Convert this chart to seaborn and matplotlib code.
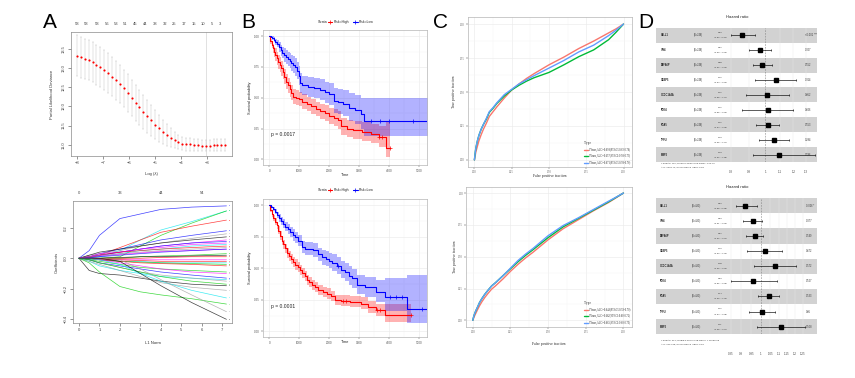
import matplotlib.pyplot as plt
import numpy as np
import pandas as pd
import seaborn as sns
from matplotlib.lines import Line2D
from matplotlib.ticker import NullLocator, FixedLocator

# ---------------------------------------------------------------- data A top
log_lambda = [-8.00, -7.85, -7.70, -7.55, -7.40, -7.25, -7.10, -6.95, -6.80, -6.65,
              -6.50, -6.35, -6.20, -6.05, -5.90, -5.75, -5.60, -5.45, -5.30, -5.15,
              -5.00, -4.85, -4.70, -4.55, -4.40, -4.25, -4.10, -3.95, -3.80, -3.65,
              -3.50, -3.35, -3.20, -3.05, -2.90, -2.75, -2.60, -2.45, -2.30]
cv_mean = [13.32, 13.28, 13.24, 13.20, 13.15, 13.09, 13.02, 12.95, 12.87, 12.78,
           12.68, 12.58, 12.47, 12.35, 12.22, 12.10, 11.98, 11.86, 11.75, 11.64,
           11.53, 11.43, 11.34, 11.26, 11.19, 11.12, 11.07, 11.03, 11.01, 11.01,
           11.00, 10.99, 10.98, 10.98, 10.98, 10.99, 10.99, 10.99, 10.99]
cv_sd = [0.53, 0.53, 0.53, 0.52, 0.52, 0.52, 0.52, 0.51, 0.51, 0.51,
         0.50, 0.50, 0.49, 0.49, 0.48, 0.47, 0.46, 0.45, 0.43, 0.41,
         0.39, 0.36, 0.32, 0.28, 0.24, 0.21, 0.18, 0.17, 0.16, 0.16,
         0.15, 0.15, 0.15, 0.15, 0.15, 0.15, 0.15, 0.15, 0.15]
lambda_min = -3.05
nz_pos = [-8.0, -7.63, -7.24, -6.86, -6.51, -6.13, -5.76, -5.37, -5.0, -4.63,
          -4.26, -3.90, -3.51, -3.14, -2.81, -2.5]
nz_count = [58, 58, 58, 56, 53, 51, 45, 44, 38, 32, 25, 17, 15, 10, 5, 3]

# ---------------------------------------------------------------- data A bottom
l1_knots = [0, 0.5, 1, 2, 3, 4, 5.5, 7.2]
path_colors = ["blue", "cyan", "green3", "red", "blue", "gray", "black", "magenta",
               "blue", "magenta", "cyan", "red", "gray", "magenta", "blue", "green3",
               "black", "red", "magenta", "red", "cyan", "green3", "red", "green3",
               "magenta", "blue", "cyan", "gray", "green3", "black", "gray", "cyan",
               "green3", "gray", "black"]
coef_paths = [
    [0, .05, .15, .26, .29, .32, .335, .343],
    [0, 0, .01, .05, .12, .185, .24, .31],
    [0, 0, 0, .01, .08, .15, .23, .31],
    [0, 0, .02, .07, .12, .17, .21, .25],
    [0, .01, .03, .06, .09, .12, .15, .18],
    [0, .02, .03, .05, .08, .10, .13, .16],
    [0, .02, .04, .06, .08, .10, .12, .14],
    [0, .01, .02, .04, .06, .08, .10, .12],
    [0, .01, .02, .04, .06, .08, .10, .11],
    [0, .01, .03, .04, .06, .07, .09, .10],
    [0, .005, .01, .03, .05, .06, .08, .09],
    [0, .01, .02, .04, .05, .06, .07, .08],
    [0, .01, .02, .03, .04, .05, .06, .07],
    [0, .005, .015, .025, .035, .045, .05, .06],
    [0, .005, .01, .02, .03, .04, .05, .06],
    [0, 0, 0, 0, .01, .015, .02, .03],
    [0, 0, 0, .005, .01, .01, .015, .02],
    [0, 0, 0, 0, 0, .005, .01, .01],
    [0, 0, -.005, -.01, -.01, -.01, -.01, -.01],
    [0, 0, -.005, -.01, -.015, -.02, -.02, -.02],
    [0, -.005, -.01, -.02, -.02, -.03, -.03, -.03],
    [0, -.005, -.01, -.02, -.025, -.03, -.035, -.04],
    [0, 0, -.01, -.02, -.03, -.035, -.04, -.05],
    [0, -.01, -.02, -.04, -.06, -.07, -.08, -.09],
    [0, 0, -.01, -.03, -.05, -.07, -.09, -.10],
    [0, -.01, -.03, -.05, -.07, -.09, -.11, -.13],
    [0, -.02, -.05, -.08, -.10, -.12, -.13, -.14],
    [0, -.01, -.03, -.06, -.09, -.11, -.13, -.15],
    [0, -.01, -.03, -.06, -.09, -.12, -.15, -.17],
    [0, -.08, -.10, -.11, -.13, -.15, -.17, -.18],
    [0, -.02, -.04, -.08, -.12, -.16, -.19, -.21],
    [0, 0, -.01, -.04, -.10, -.15, -.21, -.26],
    [0, -.03, -.09, -.185, -.22, -.24, -.265, -.30],
    [0, 0, 0, -.01, -.07, -.14, -.24, -.35],
    [0, 0, 0, -.02, -.10, -.18, -.29, -.40],
]
var_ids = [12, 45, 3, 27, 8, 51, 19, 33, 40, 6, 22, 57, 14, 30, 2, 48, 11, 36,
           25, 9, 53, 17, 42, 4, 29, 38, 15, 55, 21, 1, 44, 31, 7, 50, 26]
df_top_pos = [0, 2, 4, 6]
df_top_lab = ["0", "33", "44", "54"]

# ---------------------------------------------------------------- data B (KM)
t_hi1 = [0, 40, 80, 120, 160, 200, 250, 300, 350, 400, 450, 500, 560, 620, 680, 740, 800,
         900, 1000, 1100, 1250, 1400, 1550, 1700, 1850, 2000, 2150, 2300, 2400, 2600,
         2800, 3100, 3400, 3650, 3900]
s_hi1 = [1.0, .96, .93, .90, .87, .85, .82, .79, .77, .74, .71, .67, .63, .60, .57, .54, .51,
         .50, .49, .47, .45, .43, .41, .39, .375, .355, .34, .32, .27, .25, .235, .225, .21,
         .18, .09]
lo_hi1 = [1.0, .94, .90, .86, .83, .80, .77, .73, .71, .68, .65, .61, .57, .54, .51, .48, .45,
          .44, .43, .41, .39, .37, .35, .33, .31, .29, .27, .25, .20, .18, .165, .15, .13,
          .10, .02]
up_hi1 = [1.0, .98, .96, .94, .91, .90, .87, .85, .83, .80, .77, .73, .69, .66, .63, .60, .57,
          .56, .55, .53, .51, .49, .47, .45, .44, .42, .41, .39, .34, .32, .31, .30, .29,
          .27, .30]
end_hi1 = 4050
cens_hi1 = [3650, 3750, 4050]

t_lo1 = [0, 50, 100, 150, 200, 260, 320, 380, 440, 500, 560, 620, 680, 740, 800, 860, 920,
         980, 1040, 1100, 1300, 1500, 1700, 1850, 2000, 2150, 2300, 2450, 2650, 2850, 3050,
         3150]
s_lo1 = [1.0, .995, .985, .97, .955, .94, .91, .885, .865, .845, .83, .815, .80, .785, .77,
         .75, .72, .68, .62, .60, .59, .58, .565, .545, .53, .475, .465, .45, .42, .40, .37,
         .31]
lo_lo1 = [1.0, .985, .97, .95, .93, .91, .87, .84, .82, .79, .775, .755, .74, .72, .70, .68,
          .65, .60, .54, .52, .51, .50, .48, .46, .44, .38, .37, .35, .31, .29, .25, .19]
up_lo1 = [1.0, 1.0, 1.0, .99, .98, .97, .95, .93, .91, .90, .885, .87, .86, .85, .84, .82,
          .79, .76, .70, .68, .67, .66, .65, .63, .62, .58, .57, .56, .54, .52, .50, .50]
end_lo1 = 5300
cens_lo1 = [3400, 3700, 4000, 4800]

t_hi2 = [0, 40, 80, 130, 190, 250, 300, 360, 420, 470, 530, 600, 660, 730, 800, 870, 950,
         1030, 1100, 1180, 1250, 1330, 1420, 1520, 1640, 1780, 1920, 2050, 2200, 2400,
         2700, 3050, 3300, 3550, 3850]
s_hi2 = [1.0, .965, .93, .90, .87, .84, .80, .76, .72, .69, .66, .625, .60, .575, .55, .53,
         .51, .485, .465, .44, .41, .39, .37, .35, .33, .315, .30, .28, .25, .24, .235, .22,
         .19, .17, .13]
lo_hi2 = [1.0, .95, .91, .875, .84, .81, .77, .725, .685, .655, .62, .585, .56, .535, .51,
          .49, .47, .445, .425, .40, .37, .35, .33, .31, .29, .275, .26, .24, .21, .20, .19,
          .175, .145, .12, .075]
up_hi2 = [1.0, .98, .955, .925, .90, .87, .835, .795, .755, .725, .695, .665, .64, .615, .59,
          .57, .55, .525, .505, .48, .45, .43, .41, .39, .37, .355, .34, .32, .29, .285, .28,
          .27, .24, .22, .22]
end_hi2 = 4744
cens_hi2 = [2450, 2550, 3600, 3700, 4744]

t_lo2 = [0, 60, 120, 190, 260, 330, 400, 470, 540, 620, 700, 780, 860, 960, 1080, 1200,
         1450, 1640, 1760, 1880, 2000, 2100, 2250, 2400, 2520, 2650, 2780, 2920, 3200,
         3580, 3860, 4610]
s_lo2 = [1.0, .985, .97, .95, .925, .90, .875, .855, .83, .81, .785, .765, .745, .72, .67,
         .655, .645, .61, .59, .575, .56, .545, .52, .49, .47, .44, .42, .37, .35, .31, .27,
         .18]
lo_lo2 = [1.0, .975, .955, .93, .90, .87, .845, .82, .795, .77, .745, .72, .70, .675, .62,
          .605, .59, .555, .53, .515, .50, .48, .455, .42, .40, .37, .345, .295, .27, .23,
          .16, .07]
up_lo2 = [1.0, .995, .985, .97, .95, .93, .905, .89, .865, .85, .825, .81, .79, .765, .72,
          .71, .70, .665, .645, .635, .62, .61, .59, .56, .54, .515, .495, .45, .43, .41,
          .42, .45]
end_lo2 = 5270
cens_lo2 = [2300, 4050, 4250, 4450, 5100]

pval_top = "p = 0.0017"
pval_bottom = "p = 0.0001"

# ---------------------------------------------------------------- data C (ROC)
fpr = [0, .005, .01, .02, .03, .045, .06, .08, .10, .125, .15, .20, .25, .30, .35, .40,
       .50, .60, .70, .80, .90, .95, 1.0]
tpr_top = {
    "red": [0, .03, .06, .10, .14, .185, .225, .27, .32, .355, .39, .455, .515, .56, .60,
            .635, .70, .757, .82, .875, .935, .965, 1.0],
    "green": [0, .05, .09, .14, .18, .225, .26, .30, .35, .38, .415, .47, .515, .55, .58,
              .605, .644, .70, .76, .81, .885, .94, 1.0],
    "blue": [0, .05, .09, .14, .18, .225, .26, .305, .355, .385, .42, .48, .52, .56, .59,
             .62, .676, .732, .795, .845, .915, .955, 1.0],
}
tpr_bottom = {
    "red": [0, .015, .03, .055, .08, .115, .145, .18, .21, .245, .27, .325, .385, .44, .49,
            .535, .633, .72, .79, .86, .925, .962, 1.0],
    "green": [0, .025, .045, .075, .10, .14, .17, .205, .235, .27, .295, .35, .405, .46,
              .51, .555, .65, .735, .80, .865, .93, .965, 1.0],
    "blue": [0, .025, .045, .075, .10, .14, .17, .205, .235, .27, .295, .35, .41, .47, .52,
             .565, .665, .745, .805, .87, .935, .967, 1.0],
}
roc_labels_top = ["1-Years,AUC=0.698(95%CI:0.63-0.76)",
                  "3-Years,AUC=0.657(95%CI:0.58-0.73)",
                  "5-Years,AUC=0.671(95%CI:0.58-0.76)"]
roc_labels_bottom = ["1-Years,AUC=0.648(95%CI:0.59-0.70)",
                     "3-Years,AUC=0.662(95%CI:0.60-0.72)",
                     "5-Years,AUC=0.665(95%CI:0.60-0.73)"]

# ---------------------------------------------------------------- data D (forest)
genes = ["SALL1", "IRS4", "DEFA6P", "CABP5", "CCDC144A", "PDK4", "PGA5", "TFPI2", "MMP3"]
hr_top = [0.86, 0.966, 0.98, 1.07, 1.013, 1.015, 1.015, 1.058, 1.095]
lo_top = [0.80, 0.90, 0.92, 0.935, 0.88, 0.86, 0.94, 0.957, 0.92]
hi_top = [0.935, 1.035, 1.047, 1.22, 1.17, 1.195, 1.095, 1.17, 1.38]
p_top = ["<0.001 ***", "0.327", "0.552", "0.314", "0.852", "0.826", "0.553", "0.284", "0.186"]
ticks_top = [0.8, 0.9, 1, 1.1, 1.2, 1.3]
foot_top = ["# Events: 112; Global p-value (Log-Rank): 4.5e-05",
            "AIC: 1038.74; Concordance Index: 0.63"]

hr_bot = [0.92, 0.956, 0.967, 1.022, 1.078, 0.96, 1.044, 1.007, 1.113]
lo_bot = [0.875, 0.91, 0.923, 0.928, 0.965, 0.85, 0.986, 0.94, 0.977]
hi_bot = [0.977, 1.004, 1.013, 1.121, 1.204, 1.09, 1.103, 1.078, 1.266]
p_bot = ["0.026 *", "0.077", "0.149", "0.672", "0.172", "0.527", "0.133", "0.85", "0.108"]
ticks_bot = [0.85, 0.9, 0.95, 1, 1.05, 1.1, 1.15, 1.2, 1.25]
foot_bot = ["# Events: 214; Global p-value (Log-Rank): 7.4556e-08",
            "AIC: 2451.96; Concordance Index: 0.64"]

# ---------------------------------------------------------------- helpers
sns.set_theme(style="white")
plt.rcParams["font.family"] = ["Liberation Sans", "DejaVu Sans"]

W, H = 855, 378
R_COLORS = {"black": "black", "red": "red", "green3": "#00CD00", "blue": "blue",
            "cyan": "#00E5EE", "magenta": "magenta", "gray": "#9A9A9A"}
GG = {"red": "#F8766D", "green": "#00BA38", "blue": "#619CFF"}

fig = plt.figure(figsize=(8.55, 3.78), dpi=100)


def px_axes(rect):
    left, top, right, bottom = rect
    return fig.add_axes([left / W, 1 - bottom / H, (right - left) / W, (bottom - top) / H])


def label_px(ax, rect, xlab_y, ylab_x):
    left, top, right, bottom = rect
    ax.xaxis.set_label_coords(0.5, -(xlab_y - bottom - 1.5) / (bottom - top))
    ax.yaxis.set_label_coords(-(left - ylab_x - 1.5) / (right - left), 0.5)


def r_style(ax, fs=3.0):
    for s in ax.spines.values():
        s.set_visible(True)
        s.set_color("#8A8A8A")
        s.set_linewidth(0.5)
    ax.tick_params(direction="out", length=2, width=0.4, colors="#444444",
                   labelsize=fs, pad=1.5, bottom=True, left=True)
    for lbl in ax.get_yticklabels():
        lbl.set_rotation(90)
        lbl.set_va("center")


def gg_style(ax, fs=2.2, pad=1.2):
    ax.set_facecolor("white")
    for s in ax.spines.values():
        s.set_visible(True)
        s.set_color("#B5B5B5")
        s.set_linewidth(0.5)
    ax.grid(True, which="major", color="#EBEBEB", lw=0.45)
    ax.grid(True, which="minor", color="#F4F4F4", lw=0.3)
    ax.set_axisbelow(True)
    ax.tick_params(which="major", direction="out", length=1.5, width=0.35,
                   colors="#555555", labelsize=fs, pad=pad, bottom=True, left=True)
    ax.tick_params(which="minor", length=0)


# ---------------------------------------------------------------- A top
rect = (71, 32, 232, 156)
ax = px_axes(rect)
ax.errorbar(log_lambda, cv_mean, yerr=cv_sd, fmt="none", ecolor="#C6C6C6",
            elinewidth=0.35, capsize=0.8, capthick=0.35, zorder=1)
sns.scatterplot(x=log_lambda, y=cv_mean, color="red", s=2.4, linewidth=0, ax=ax, zorder=3)
ax.axvline(lambda_min, color="#D0D0D0", lw=0.45, zorder=0)
ax.set_xlim(-8.23, -2.04)
ax.set_ylim(10.71, 13.94)
ax.set_xticks([-8, -7, -6, -5, -4, -3])
ax.set_xticklabels(["−8", "−7", "−6", "−5", "−4", "−3"])
ax.set_yticks([11.0, 11.5, 12.0, 12.5, 13.0, 13.5])
ax.set_yticklabels(["11.0", "11.5", "12.0", "12.5", "13.0", "13.5"])
r_style(ax)
ax.set_xlabel("Log (λ)", fontsize=3.0, color="#333333")
ax.set_ylabel("Partial Likelihood Deviance", fontsize=3.0, color="#333333")
label_px(ax, rect, 174, 52)
for pos, n in zip(nz_pos, nz_count):
    ax.annotate(str(n), xy=(pos, 1), xycoords=("data", "axes fraction"), xytext=(0, 5.8),
                textcoords="offset points", ha="center", va="center", fontsize=3.0,
                color="#444444")

# ---------------------------------------------------------------- A bottom
rect = (73, 201, 232, 323)
ax = px_axes(rect)
rows = []
for i, vals in enumerate(coef_paths):
    for k, v in zip(l1_knots, vals):
        rows.append({"path": i, "l1": k, "coef": v})
paths_df = pd.DataFrame(rows)
sns.lineplot(data=paths_df, x="l1", y="coef", hue="path",
             palette=[R_COLORS[c] for c in path_colors], legend=False,
             estimator=None, lw=0.5, alpha=0.75, ax=ax)
for vals, c, vid in zip(coef_paths, path_colors, var_ids):
    ax.text(l1_knots[-1] + 0.12, vals[-1], str(vid), fontsize=1.3, color=R_COLORS[c],
            va="center", ha="left", clip_on=False)
ax.set_xlim(-0.29, 7.47)
ax.set_ylim(-0.424, 0.375)
ax.set_xticks(range(8))
ax.set_yticks([-0.4, -0.2, 0.0, 0.2])
ax.set_yticklabels(["−0.4", "−0.2", "0.0", "0.2"])
r_style(ax)
ax.set_xlabel("L1 Norm", fontsize=3.0, color="#333333")
ax.set_ylabel("Coefficients", fontsize=3.0, color="#333333")
label_px(ax, rect, 342, 57)
for pos, lab in zip(df_top_pos, df_top_lab):
    ax.annotate(lab, xy=(pos, 1), xycoords=("data", "axes fraction"), xytext=(0, 5.8),
                textcoords="offset points", ha="center", va="center", fontsize=3.0,
                color="#444444")


# ---------------------------------------------------------------- B
def km_curve(ax, t, s, lo, up, t_end, color, cens):
    tt = np.append(t, t_end)
    ss = np.append(s, s[-1])
    ll = np.append(lo, lo[-1])
    uu = np.append(up, up[-1])
    ax.fill_between(tt, ll, uu, step="post", color=color, alpha=0.3, lw=0)
    sns.lineplot(x=tt, y=ss, drawstyle="steps-post", color=color, lw=0.8, ax=ax)
    idx = np.searchsorted(t, cens, side="right") - 1
    ax.plot(cens, np.asarray(s)[idx], ls="none", marker="+", color=color, ms=2.2, mew=0.5)


def km_panel(rect, curves, pval, legend_y):
    ax = px_axes(rect)
    for c in curves:
        km_curve(ax, *c)
    ax.set_xlim(-210, 5270)
    ax.set_ylim(-0.045, 1.05)
    ax.set_xticks([0, 1000, 2000, 3000, 4000, 5000])
    ax.set_yticks([0, 0.25, 0.5, 0.75, 1.0])
    ax.set_yticklabels(["0.00", "0.25", "0.50", "0.75", "1.00"])
    ax.xaxis.set_minor_locator(FixedLocator([500, 1500, 2500, 3500, 4500]))
    ax.yaxis.set_minor_locator(FixedLocator([0.125, 0.375, 0.625, 0.875]))
    gg_style(ax)
    ax.set_xlabel("Time", fontsize=2.8, color="#222222")
    ax.set_ylabel("Survival probability", fontsize=2.8, color="#222222")
    ax.text(50, 0.2, pval, fontsize=3.6, color="#222222", va="center", ha="left")
    handles = [Line2D([], [], color="red", marker="+", lw=0.8, ms=2.2, mew=0.5),
               Line2D([], [], color="blue", marker="+", lw=0.8, ms=2.2, mew=0.5)]
    ax.legend(handles, ["Risk=High", "Risk=Low"], loc="center",
              bbox_to_anchor=(351 / W, 1 - legend_y / H), bbox_transform=fig.transFigure,
              ncol=2, frameon=False, fontsize=2.4, handlelength=1.3, handletextpad=0.4,
              columnspacing=1.2, borderpad=0)
    fig.text(323 / W, 1 - legend_y / H, "Strata", fontsize=2.6, ha="center", va="center",
             color="#222222")
    return ax


rect = (263, 30, 427, 165)
ax = km_panel(rect, [(t_hi1, s_hi1, lo_hi1, up_hi1, end_hi1, "red", cens_hi1),
                     (t_lo1, s_lo1, lo_lo1, up_lo1, end_lo1, "blue", cens_lo1)],
              pval_top, 22)
label_px(ax, rect, 174, 250)
rect = (263, 199, 427, 337)
ax = km_panel(rect, [(t_hi2, s_hi2, lo_hi2, up_hi2, end_hi2, "red", cens_hi2),
                     (t_lo2, s_lo2, lo_lo2, up_lo2, end_lo2, "blue", cens_lo2)],
              pval_bottom, 190)
label_px(ax, rect, 341.5, 250)


# ---------------------------------------------------------------- C
def roc_panel(rect, tpr, labels):
    ax = px_axes(rect)
    rows = []
    for key, lab in zip(["red", "green", "blue"], labels):
        for f, t in zip(fpr, tpr[key]):
            rows.append({"fpr": f, "tpr": t, "Type": lab})
    roc_df = pd.DataFrame(rows)
    sns.lineplot(data=roc_df, x="fpr", y="tpr", hue="Type", hue_order=labels,
                 palette=[GG["red"], GG["green"], GG["blue"]], estimator=None,
                 lw=1.0, ax=ax)
    ax.set_xlim(-0.045, 1.055)
    ax.set_ylim(-0.05, 1.05)
    ticks = [0, 0.25, 0.5, 0.75, 1.0]
    tl = ["0.00", "0.25", "0.50", "0.75", "1.00"]
    ax.set_xticks(ticks)
    ax.set_xticklabels(tl, family="Liberation Serif")
    ax.set_yticks(ticks)
    ax.set_yticklabels(tl, family="Liberation Serif")
    ax.xaxis.set_minor_locator(FixedLocator([0.125, 0.375, 0.625, 0.875]))
    ax.yaxis.set_minor_locator(FixedLocator([0.125, 0.375, 0.625, 0.875]))
    gg_style(ax, fs=1.9, pad=0.6)
    ax.set_xlabel("False positive fraction", fontsize=2.7, family="Liberation Serif",
                  color="#222222")
    ax.set_ylabel("True positive fraction", fontsize=2.7, family="Liberation Serif",
                  color="#222222")
    handles = [Line2D([], [], color=GG[k], lw=1.0) for k in ["red", "green", "blue"]]
    leg = ax.legend(handles, labels, title="Type", loc="lower right",
                    bbox_to_anchor=(1.01, 0.0), frameon=False,
                    title_fontsize=2.6, handlelength=1.5, handletextpad=0.5,
                    labelspacing=0.9, alignment="left", borderpad=0.3,
                    prop={"family": "Liberation Serif", "size": 1.9})
    leg.get_title().set_family("Liberation Serif")
    return ax


rect = (467.7, 17.3, 631.7, 166.7)
ax = roc_panel(rect, tpr_top, roc_labels_top)
label_px(ax, rect, 175, 455)
rect = (466, 186.7, 631.7, 326.7)
ax = roc_panel(rect, tpr_bottom, roc_labels_bottom)
label_px(ax, rect, 343.5, 455)


# ---------------------------------------------------------------- D
def forest(rect, hr, lo, hi, pv, ticks, foot, n_text, xlim, cols, tick_pad, title_y, foot_y):
    ax = px_axes(rect)
    hr = np.asarray(hr)
    lo = np.asarray(lo)
    hi = np.asarray(hi)
    rows = np.arange(1, len(genes) + 1)
    for r in rows[::2]:
        ax.axhspan(r - 0.5, r + 0.5, color="#D2D2D2", lw=0, zorder=0)
    ax.set_xscale("log")
    ax.set_xlim(*xlim)
    ax.set_ylim(len(genes) + 0.5, 0.5)
    for t in ticks:
        if t != 1:
            ax.axvline(t, color="#E8E8E8", lw=0.3, zorder=1)
    ax.axvline(1, color="#808080", lw=0.4, ls=(0, (3, 2)), zorder=1)
    ax.errorbar(hr, rows, xerr=[hr - lo, hi - hr], fmt="s", color="black", ms=2.6,
                elinewidth=0.45, capsize=0.8, capthick=0.45, zorder=3)
    tr = ax.get_yaxis_transform()
    for r, g, e, l, h, p in zip(rows, genes, hr, lo, hi, pv):
        ax.text(cols[0], r, g, transform=tr, fontsize=1.8, weight="bold", va="center",
                ha="left", color="#222222")
        ax.text(cols[1], r, n_text, transform=tr, fontsize=1.8, va="center", ha="center",
                color="#333333")
        ax.text(cols[2], r - 0.17, f"{e:.2f}", transform=tr, fontsize=1.7, va="center",
                ha="center", color="#333333")
        ax.text(cols[2], r + 0.17, f"({l:.2f} - {h:.2f})", transform=tr, fontsize=1.7,
                va="center", ha="center", color="#333333")
        ax.text(cols[3], r, p, transform=tr, fontsize=1.8, va="center", ha="left",
                color="#333333", clip_on=False)
    ax.set_xticks(ticks)
    ax.set_xticklabels([f"{t:g}" for t in ticks])
    ax.xaxis.set_minor_locator(NullLocator())
    ax.set_yticks([])
    ax.tick_params(axis="x", length=0, labelsize=2.1, colors="#444444", pad=tick_pad,
                   bottom=True)
    for s in ax.spines.values():
        s.set_visible(False)
    left = rect[0]
    fig.text(737 / W, 1 - title_y / H, "Hazard ratio", fontsize=3.0, ha="center",
             va="center", color="#222222")
    for k, line in enumerate(foot):
        fig.text((left + 5) / W, 1 - (foot_y + 4.4 * k) / H, line, fontsize=1.7,
                 ha="left", va="center", color="#333333")


forest((656, 27.8, 817, 162), hr_top, lo_top, hi_top, p_top, ticks_top, foot_top,
       "(N=248)", (0.49, 1.40), (0.031, 0.261, 0.402, 0.925), 5.5, 17.3, 163.3)
forest((656, 198.2, 817, 334.2), hr_bot, lo_bot, hi_bot, p_bot, ticks_bot, foot_bot,
       "(N=490)", (0.57, 1.35), (0.025, 0.252, 0.398, 0.932), 13.0, 187, 340)

# ---------------------------------------------------------------- panel letters
for letter, x, y in [("A", 50, 23), ("B", 248, 23), ("C", 440, 23), ("D", 646, 23)]:
    fig.text(x / W, 1 - y / H, letter, fontsize=15, ha="center", va="center", color="black")

fig.savefig("out.png", dpi=100)
